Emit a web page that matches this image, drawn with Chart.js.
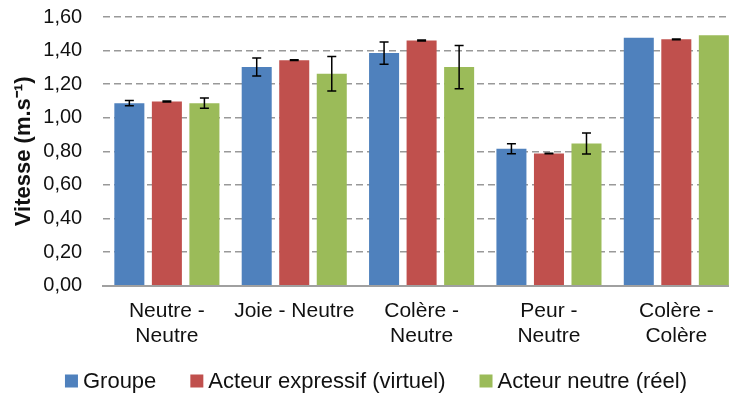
<!DOCTYPE html>
<html>
<head>
<meta charset="utf-8">
<script src="https://cdn.jsdelivr.net/npm/chart.js@4.4.1/dist/chart.umd.min.js"></script>
<style>
  html, body { margin: 0; padding: 0; overflow: hidden; background: #fff; }
  #wrap { width: 729px; height: 394px; overflow: hidden; }
</style>
</head>
<body>
<div id="wrap"><canvas id="c" width="756" height="394"></canvas></div>
<script>
// Conditions (x axis categories)
const categories = [
  ['Neutre -', 'Neutre'],
  ['Joie - Neutre'],
  ['Colère -', 'Neutre'],
  ['Peur -', 'Neutre'],
  ['Colère -', 'Colère']
];

// Series labels
const seriesNames = ['Groupe', 'Acteur expressif (virtuel)', 'Acteur neutre (réel)'];

// Mean speeds (m/s)
const groupe   = [1.087, 1.302, 1.385, 0.815, 1.477];
const virtuel  = [1.097, 1.343, 1.460, 0.787, 1.467];
const reel     = [1.087, 1.262, 1.302, 0.847, 1.492];

// Error bar half-lengths (null = none)
const groupeErr  = [0.016, 0.054, 0.066, 0.030, null];
const virtuelErr = [0.003, 0.002, 0.003, 0.002, 0.002];
const reelErr    = [0.031, 0.103, 0.129, 0.063, null];

// Y axis range
const yMin = 0;
const yMax = 1.6;
const yStep = 0.2;

const yTitle = 'Vitesse (m.s⁻¹)';

const FONT = '"Liberation Sans", Arial, sans-serif';
const colors = ['#4F81BD', '#C0504D', '#9BBB59'];

// Draws symmetric error bars on top of each bar, using the value scale
const errorBars = {
  id: 'errorBars',
  afterDatasetsDraw(chart) {
    const ctx = chart.ctx;
    const y = chart.scales.y;
    ctx.save();
    ctx.strokeStyle = '#000';
    ctx.lineWidth = 1.5;
    chart.data.datasets.forEach((ds, di) => {
      const meta = chart.getDatasetMeta(di);
      meta.data.forEach((bar, i) => {
        const e = ds.errors[i];
        if (e == null) return;
        const v = ds.data[i];
        const yTop = y.getPixelForValue(v + e);
        const yBot = y.getPixelForValue(v - e);
        const half = 4.5;
        ctx.beginPath();
        ctx.moveTo(bar.x, yTop); ctx.lineTo(bar.x, yBot);
        ctx.moveTo(bar.x - half, yTop); ctx.lineTo(bar.x + half, yTop);
        ctx.moveTo(bar.x - half, yBot); ctx.lineTo(bar.x + half, yBot);
        ctx.stroke();
      });
    });
    ctx.restore();
  }
};

// Legend row drawn under the category labels
const bottomLegend = {
  id: 'bottomLegend',
  afterDraw(chart) {
    const ctx = chart.ctx;
    const box = 13, gap = 5, spacing = 34;
    ctx.save();
    ctx.font = '22px ' + FONT;
    ctx.textBaseline = 'middle';
    const items = chart.data.datasets.map(ds => ({
      label: ds.label, color: ds.backgroundColor, w: ctx.measureText(ds.label).width
    }));
    const total = items.reduce((s, it) => s + box + gap + it.w, 0) + spacing * (items.length - 1);
    const cy = 381;
    let x = 376 - total / 2;
    items.forEach(it => {
      ctx.fillStyle = it.color;
      ctx.fillRect(x, cy - box / 2, box, box);
      ctx.fillStyle = '#111';
      ctx.fillText(it.label, x + box + gap, cy + 1);
      x += box + gap + it.w + spacing;
    });
    ctx.restore();
  }
};

const series = [groupe, virtuel, reel];
const errs = [groupeErr, virtuelErr, reelErr];

new Chart(document.getElementById('c'), {
  type: 'bar',
  data: {
    labels: categories,
    datasets: series.map((d, i) => ({
      label: seriesNames[i],
      data: d,
      errors: errs[i],
      backgroundColor: colors[i],
      borderWidth: 0,
      categoryPercentage: 0.884,
      barPercentage: 0.8
    }))
  },
  options: {
    responsive: false,
    animation: false,
    devicePixelRatio: 1,
    layout: { padding: { top: 17, right: 16, bottom: 0, left: 0 } },
    plugins: {
      legend: { display: false },
      tooltip: { enabled: false }
    },
    scales: {
      x: {
        grid: { display: false, drawTicks: false },
        border: { display: true, color: '#a0a0a0', width: 2 },
        ticks: {
          color: '#111',
          font: { family: FONT, size: 21, lineHeight: 1.2 },
          padding: 13,
          maxRotation: 0,
          autoSkip: false
        },
        afterFit(scale) { scale.height = 108.3; }
      },
      y: {
        min: yMin,
        max: yMax,
        grid: {
          color: '#999999',
          lineWidth: 1.4,
          drawTicks: true,
          tickLength: 21,
          tickColor: 'rgba(0,0,0,0)'
        },
        border: { display: false, dash: [7, 4] },
        ticks: {
          stepSize: yStep,
          color: '#111',
          font: { family: FONT, size: 20 },
          padding: 0,
          callback: v => v.toFixed(2).replace('.', ',')
        },
        title: {
          display: true,
          text: yTitle,
          color: '#111',
          font: { family: FONT, size: 22, weight: 'bold' },
          padding: { top: 11, bottom: 6 }
        },
        afterFit(scale) { scale.width = 103.2; }
      }
    }
  },
  plugins: [errorBars, bottomLegend]
});
</script>
</body>
</html>
